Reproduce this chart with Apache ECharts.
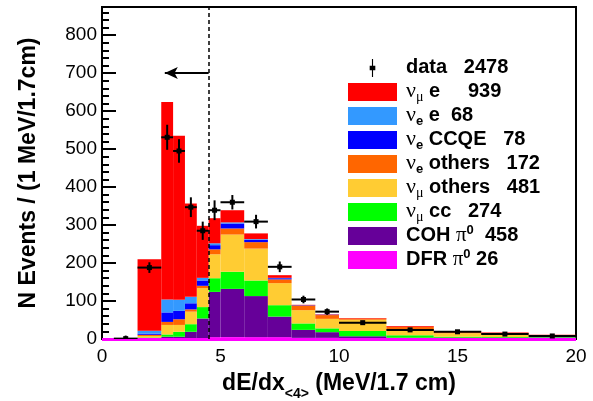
<!DOCTYPE html>
<html>
<head>
<meta charset="utf-8">
<script src="https://cdn.jsdelivr.net/npm/echarts@6/dist/echarts.min.js"></script>
<style>
html,body{margin:0;padding:0;background:#fff;}
#chart{width:593px;height:401px;}
</style>
</head>
<body>
<div id="chart"></div>
<script>
// bin edges, dE/dx<4> (MeV/1.7 cm)
const binLo = [1.5, 2.5, 3.0, 3.5, 4.0, 4.5, 5, 6, 7, 8, 9, 10, 12, 14, 16, 18];
const binHi = [2.5, 3.0, 3.5, 4.0, 4.5, 5.0, 6, 7, 8, 9, 10, 12, 14, 16, 18, 20];

// MC components per bin, stacked bottom -> top
const dfrPi0  = [1, 2, 1, 2, 2, 5, 5, 5, 5, 3, 3, 2, 2, 2, 2, 2];
const cohPi0  = [1, 4, 5, 17, 52, 119, 127, 108, 54, 21, 15, 5, 1, 1, 1, 2];
const numuCC  = [2, 6, 13, 20, 30, 36, 45, 41, 30, 17, 10, 14, 7, 3, 2, 1];
const numuOth = [4, 25, 18, 33, 50, 63, 98, 84, 58, 35, 25, 30, 14, 9, 7, 4];
const nueOth  = [3, 8, 15, 6, 6, 13, 16, 17, 10, 12, 10, 3, 8, 5, 3, 1];
const nueCCQE = [3, 25, 22, 16, 14, 11, 13, 6, 3, 1, 1, 0, 0, 0, 0, 0];
const nueE    = [8, 34, 29, 17, 7, 5, 3, 2, 1, 0, 0, 0, 0, 0, 0, 0];
const numuE   = [188, 520, 432, 246, 137, 66, 32, 15, 7, 1, 1, 1, 2, 1, 2, 1];

// data points
const dataLo  = [0.5, 1.5, 2.5, 3.0, 3.5, 4.0, 4.5, 5, 6, 7, 8, 9, 10, 12, 14, 16, 18];
const dataHi  = [1.5, 2.5, 3.0, 3.5, 4.0, 4.5, 5.0, 6, 7, 8, 9, 10, 12, 14, 16, 18, 20];
const dataVal = [1, 188, 531, 495, 347, 285, 339, 360, 309, 190, 104, 72, 43, 24, 19, 13, 8];
const dataErr = [8, 14, 33, 31, 26, 24, 26, 19, 18, 14, 10, 8.5, 4.6, 3.5, 3, 2.5, 2];

// legend counts
const legendKeys   = ['data', 'numuE', 'nueE', 'nueCCQE', 'nueOth', 'numuOth', 'numuCC', 'coh', 'dfr'];
const legendCounts = [2478, 939, 68, 78, 172, 481, 274, 458, 26];

// cut line and arrow
const cutX = 4.5;
const arrowY = 700;
const arrowTipX = 2.65;

const sans = "'Liberation Sans', Arial, Helvetica, sans-serif";
const serif = "'Liberation Serif', 'DejaVu Serif', serif";

const compKeys   = ['dfr', 'coh', 'numuCC', 'numuOth', 'nueOth', 'nueCCQE', 'nueE', 'numuE'];
const compValues = [dfrPi0, cohPi0, numuCC, numuOth, nueOth, nueCCQE, nueE, numuE];
const compColors = ['#ff00ff', '#660099', '#00ff00', '#ffcc33', '#ff6600', '#0000ff', '#3399ff', '#ff0000'];

const chart = echarts.init(document.getElementById('chart'));

// one histogram bin as a rect
function histItem(params, api) {
  const p0 = api.coord([api.value(0), api.value(3)]);
  const p1 = api.coord([api.value(1), api.value(2)]);
  return {
    type: 'rect',
    shape: {x: p0[0], y: p0[1], width: p1[0] - p0[0], height: p1[1] - p0[1]},
    style: {fill: api.visual('color')}
  };
}

// data point with error bars
function dataItem(params, api) {
  const lo = api.value(0), hi = api.value(1), v = api.value(2), e = api.value(3);
  const mid = (lo + hi) / 2;
  const a = api.coord([lo, v]), b = api.coord([hi, v]);
  const t = api.coord([mid, v + e]), d = api.coord([mid, v - e]);
  const s = {stroke: '#000', lineWidth: 2};
  return {
    type: 'group',
    children: [
      {type: 'line', shape: {x1: a[0], y1: a[1], x2: b[0], y2: b[1]}, style: s},
      {type: 'line', shape: {x1: t[0], y1: t[1], x2: d[0], y2: d[1]}, style: s},
      {type: 'rect', shape: {x: t[0] - 2.5, y: a[1] - 2.5, width: 5, height: 5}, style: {fill: '#000'}}
    ]
  };
}

// stack the components
const base = binLo.map(() => 0);
const histSeries = compValues.map((vals, k) => {
  const data = vals.map((v, i) => {
    const item = [binLo[i], binHi[i], base[i], base[i] + v];
    base[i] += v;
    return item;
  });
  return {
    name: compKeys[k],
    type: 'custom',
    renderItem: histItem,
    data: data,
    encode: {x: [0, 1], y: [2, 3]},
    itemStyle: {color: compColors[k]},
    clip: true,
    z: 2
  };
});

// dfr line at zero across the frame
histSeries[0].markLine = {
  silent: true, symbol: 'none', label: {show: false}, animation: false,
  lineStyle: {color: '#ff00ff', width: 3, type: 'solid'},
  data: [{yAxis: 0}]
};

const dataSeries = {
  name: 'data',
  type: 'custom',
  renderItem: dataItem,
  data: dataVal.map((v, i) => [dataLo[i], dataHi[i], v, dataErr[i]]),
  encode: {x: [0, 1], y: 2},
  itemStyle: {color: '#000'},
  clip: true,
  z: 5,
  markLine: {
    silent: true, symbol: 'none', label: {show: false}, animation: false,
    lineStyle: {color: '#000', width: 2, type: 'solid'},
    data: [
      {xAxis: cutX, lineStyle: {type: [4, 3], width: 1.5, color: '#000'}},
      [{coord: [cutX, arrowY], symbol: 'none'},
       {coord: [arrowTipX, arrowY], symbol: 'arrow', symbolSize: [9, 13]}]
    ]
  }
};

// '#' is replaced by the count; the trailing {se| } keeps every row the same height
const legendText = {
  data:    '{g| }{b|data   #}{se| }',
  numuE:   '{g| }{nu|ν}{sm|μ}{b| e     #}',
  nueE:    '{g| }{nu|ν}{se|e}{b| e  #}',
  nueCCQE: '{g| }{nu|ν}{se|e}{b| CCQE   #}',
  nueOth:  '{g| }{nu|ν}{se|e}{b| others   #}',
  numuOth: '{g| }{nu|ν}{sm|μ}{b| others   #}',
  numuCC:  '{g| }{nu|ν}{sm|μ}{b| cc   #}',
  coh:     '{g| }{b|COH }{pi|π}{sup|0}{b|  #}{se| }',
  dfr:     '{g| }{b|DFR }{pi|π}{sup|0}{b| #}{se| }'
};

const rich = {
  g:   {width: 4, fontSize: 10, padding: [0, 0, 14, 0], verticalAlign: 'top'},
  b:   {fontFamily: sans, fontWeight: 'bold', fontSize: 20, padding: [1, 0, 3, 0], verticalAlign: 'top', color: '#000'},
  nu:  {fontFamily: serif, fontSize: 22, padding: [0, 0, 2, 0], verticalAlign: 'top', color: '#000'},
  pi:  {fontFamily: serif, fontSize: 21, padding: [1, 0, 2, 0], verticalAlign: 'top', color: '#000'},
  sm:  {fontFamily: serif, fontSize: 14, padding: [10, 0, 0, 0], verticalAlign: 'top', color: '#000'},
  se:  {fontFamily: sans, fontWeight: 'bold', fontSize: 13, padding: [11, 0, 0, 0], verticalAlign: 'top', color: '#000'},
  sup: {fontFamily: sans, fontWeight: 'bold', fontSize: 13, padding: [0, 0, 11, 0], verticalAlign: 'top', color: '#000'}
};

const dataIcon = 'path://M2,0 L3,0 L3,6 L5,6 L5,10 L3,10 L3,16 L2,16 L2,10 L0,10 L0,6 L2,6 Z';

const gridBox = {left: 102, right: 17, top: 7, bottom: 62, outerBoundsMode: 'none'};

const option = {
  animation: false,
  backgroundColor: '#fff',
  grid: [
    Object.assign({show: true, borderColor: '#000', borderWidth: 2, backgroundColor: 'transparent'}, gridBox),
    Object.assign({show: false}, gridBox)
  ],
  xAxis: [
    {
      type: 'value', gridIndex: 0, min: 0, max: 20, interval: 5,
      axisLine: {show: true, onZero: false, lineStyle: {color: '#000', width: 2}},
      axisTick: {show: false},
      splitLine: {show: false},
      axisLabel: {color: '#000', fontFamily: sans, fontSize: 19, margin: 8},
      name: '{b|dE/dx}{sub|<4>}{b| (MeV/1.7 cm)}',
      nameLocation: 'middle', nameGap: 33, nameMoveOverlap: false,
      nameTextStyle: {
        rich: {
          b: {fontFamily: sans, fontWeight: 'bold', fontSize: 23, lineHeight: 23, verticalAlign: 'top', color: '#000'},
          sub: {fontFamily: sans, fontWeight: 'bold', fontSize: 14, lineHeight: 14, padding: [15, 0, 0, 0], verticalAlign: 'top', color: '#000'}
        }
      }
    },
    {type: 'value', gridIndex: 1, min: 0, max: 20, show: false}
  ],
  yAxis: [
    {
      type: 'value', gridIndex: 0, min: 0, max: 874, interval: 100,
      axisLine: {show: true, onZero: false, lineStyle: {color: '#000', width: 2}},
      axisTick: {show: true, inside: true, length: 14, lineStyle: {color: '#000', width: 2}},
      splitLine: {show: false},
      axisLabel: {color: '#000', fontFamily: sans, fontSize: 19, margin: 5, showMaxLabel: false},
      name: 'N Events / (1 MeV/1.7cm)',
      nameLocation: 'middle', nameGap: 62, nameMoveOverlap: false,
      nameTextStyle: {fontFamily: sans, fontWeight: 'bold', fontSize: 23, color: '#000'}
    },
    {
      type: 'value', gridIndex: 1, min: 0, max: 874, interval: 20,
      axisLine: {show: false},
      axisTick: {show: true, inside: true, length: 7, lineStyle: {color: '#000', width: 2}},
      axisLabel: {show: false},
      splitLine: {show: false}
    }
  ],
  legend: {
    orient: 'vertical', left: 348, top: 56, padding: 0,
    itemWidth: 49, itemHeight: 18, itemGap: 0,
    selectedMode: false, symbolKeepAspect: true,
    data: legendKeys.map(k => ({name: k, icon: k === 'data' ? dataIcon : 'rect'})),
    formatter: name => legendText[name].replace('#', legendCounts[legendKeys.indexOf(name)]),
    textStyle: {color: '#000', rich: rich}
  },
  series: histSeries.concat([dataSeries])
};

chart.setOption(option);
</script>
</body>
</html>
